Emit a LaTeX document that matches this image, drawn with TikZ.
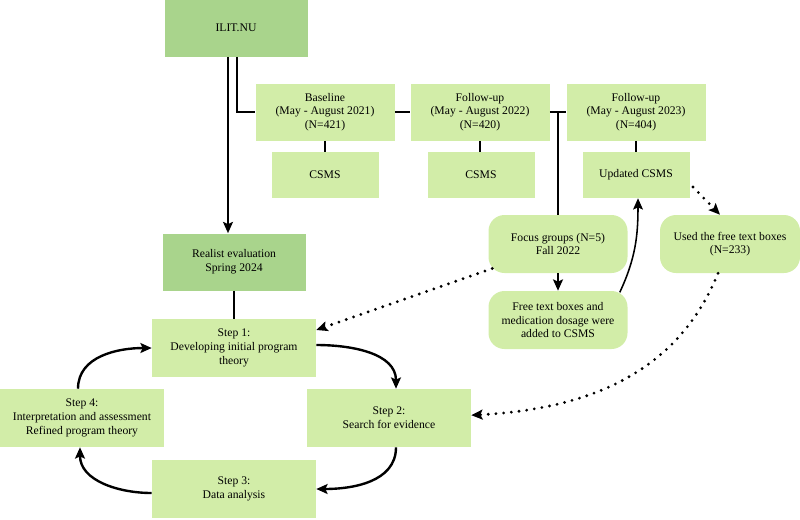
\documentclass[tikz,border=0pt]{standalone}
\usepackage{fontspec}
\setmainfont{Liberation Serif}
\usetikzlibrary{arrows.meta}
\definecolor{darkleaf}{HTML}{A9D48C}
\definecolor{lightleaf}{HTML}{D2EDA8}
\begin{document}
\begin{tikzpicture}[
  >={Stealth[length=8pt,width=7pt,inset=1.5pt]},
  box/.style={fill=lightleaf,align=center,inner sep=2pt,font=\fontsize{8.3}{9.7}\selectfont,
    minimum width=3.475cm,minimum height=1.425cm},
  headbox/.style={box,fill=darkleaf,minimum width=3.575cm},
  smallbox/.style={box,minimum width=2.675cm,minimum height=1.15cm},
  roundbox/.style={box,rounded corners=0.4cm,minimum height=1.45cm},
  stepbox/.style={box,minimum width=4.1cm,minimum height=1.45cm},
  link/.style={line width=1.7pt},
  dotlink/.style={line width=2.2pt,line cap=round,dash pattern=on 0pt off 5.5pt}
]
  \useasboundingbox (0,0) rectangle (20,-12.975);

  \node[headbox] (ilit) at (5.9,-0.7) {ILIT.NU};
  \node[box] (base) at (8.125,-2.8) {Baseline\\(May - August 2021)\\(N=421)};
  \node[box] (fuA) at (12.0,-2.8) {Follow-up\\(May - August 2022)\\(N=420)};
  \node[box] (fuB) at (15.9,-2.8) {Follow-up\\(May - August 2023)\\(N=404)};
  \node[smallbox] (csmsA) at (8.125,-4.375) {CSMS};
  \node[smallbox] (csmsB) at (12.025,-4.375) {CSMS};
  \node[smallbox] (csmsC) at (15.9,-4.375) {Updated CSMS};
  \node[headbox] (real) at (5.85,-6.55) {Realist evaluation\\Spring 2024};
  \node[roundbox] (focus) at (13.95,-6.1) {Focus groups (N=5)\\Fall 2022};
  \node[roundbox] (free) at (13.95,-8.0) {Free text boxes and\\medication dosage were\\added to CSMS};
  \node[roundbox,minimum width=3.5cm] (used) at (18.25,-6.1) {Used the free text boxes\\(N=233)};
  \node[stepbox] (step1) at (5.85,-8.7) {Step 1:\\Developing initial program\\theory};
  \node[stepbox] (step2) at (9.725,-10.45) {Step 2:\\Search for evidence};
  \node[stepbox] (step3) at (5.85,-12.225) {Step 3:\\Data analysis};
  \node[stepbox] (step4) at (2.05,-10.45) {Step 4:\\Interpretation and assessment\\Refined program theory};

  % data collection
  \draw[link,->] ([xshift=-0.2cm]ilit.south) -- ([xshift=-0.2cm]ilit.south |- real.north);
  \draw[link] ([xshift=0.025cm]ilit.south) |- (base.west);
  \draw[link] (base.east) -- (fuA.east -| fuA.west);
  \draw[link] (fuA.east) -- (fuB.west);
  \draw[link] (focus.north |- fuA.east) -- (focus.north);
  \draw[link] (base.south) -- (csmsA.north);
  \draw[link] (fuA.south) -- (fuA.south |- csmsB.north);
  \draw[link] (fuB.south) -- (csmsC.north);
  \draw[link] (real.south) -- (step1.north);
  \draw[link,->] (focus.south) -- (free.north);
  \draw[line width=1.1pt,->] ([shift={(-0.2,-0.04)}]free.north east) to[out=65,in=-90] ([xshift=0.05cm]csmsC.south);

  % feedback into the evaluation
  \draw[dotlink,->] ([shift={(0.08,-0.3)}]csmsC.east) -- ([xshift=-0.25cm]used.north);
  \draw[dotlink,->] ([shift={(0.1,0.12)}]focus.south west) -- ([yshift=0.45cm]step1.east);
  \draw[dotlink,->] ([xshift=-0.3cm]used.south) to[out=-112,in=3] ([yshift=0.07cm]step2.east);

  % realist cycle
  \draw[link,->] ([yshift=0.075cm]step1.east) to[out=0,in=90] ([xshift=0.175cm]step2.north);
  \draw[link,->] ([xshift=0.175cm]step2.south) to[out=-90,in=0] (step3.east);
  \draw[link,->] ([yshift=-0.1cm]step3.west) to[out=180,in=-90] ([xshift=-0.05cm]step4.south);
  \draw[link,->] ([xshift=-0.1cm]step4.north) to[out=90,in=180] (step1.west);
\end{tikzpicture}
\end{document}
